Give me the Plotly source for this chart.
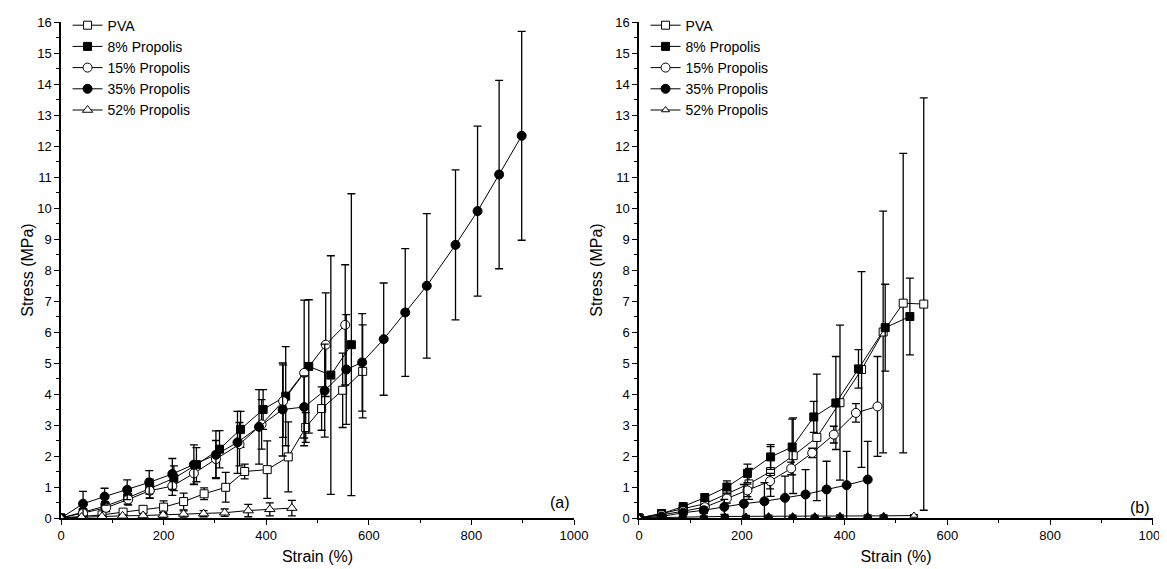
import plotly.graph_objects as go

# ---------------- Panel (a) ----------------
pva_a_x = [0, 43, 80, 121, 160, 200, 239, 279, 321, 358, 402, 443, 477, 508, 549, 588]
pva_a_y = [0, 0.06, 0.10, 0.19, 0.28, 0.35, 0.53, 0.78, 0.99, 1.50, 1.56, 1.97, 2.92, 3.53, 4.12, 4.73]
pva_a_e = [0, 0.03, 0.05, 0.07, 0.10, 0.20, 0.27, 0.19, 0.48, 0.24, 0.93, 1.13, 0.48, 0.70, 1.20, 1.50]

p8_a_x = [0, 43, 86, 130, 173, 220, 264, 309, 350, 394, 438, 483, 526, 566]
p8_a_y = [0, 0.18, 0.38, 0.65, 0.95, 1.28, 1.72, 2.22, 2.86, 3.50, 3.93, 4.89, 4.61, 5.59]
p8_a_e = [0, 0.10, 0.15, 0.20, 0.30, 0.40, 0.55, 0.60, 0.58, 0.64, 1.60, 2.15, 3.85, 4.87]

p15_a_x = [0, 43, 88, 131, 173, 217, 259, 302, 348, 391, 433, 474, 516, 554]
p15_a_y = [0, 0.15, 0.33, 0.60, 0.88, 1.03, 1.44, 1.90, 2.38, 3.02, 3.77, 4.68, 5.59, 6.23]
p15_a_e = [0, 0.08, 0.12, 0.18, 0.25, 0.30, 0.35, 0.60, 0.70, 0.80, 1.17, 2.35, 1.67, 1.94]

p35_a_x = [0, 43, 85, 129, 172, 217, 259, 302, 344, 386, 432, 474, 514, 556, 587, 629, 671, 713, 769, 812, 854, 898]
p35_a_y = [0, 0.46, 0.69, 0.91, 1.15, 1.42, 1.72, 2.04, 2.44, 2.94, 3.50, 3.58, 4.11, 4.79, 5.02, 5.77, 6.63, 7.49, 8.81, 9.90, 11.08, 12.33]
p35_a_e = [0, 0.40, 0.27, 0.32, 0.38, 0.50, 0.64, 0.77, 1.00, 1.20, 1.50, 1.00, 1.50, 1.77, 1.57, 1.81, 2.06, 2.33, 2.42, 2.74, 3.04, 3.37]

p52_a_x = [0, 40, 80, 120, 160, 199, 239, 278, 319, 365, 407, 450]
p52_a_y = [0, 0.03, 0.05, 0.07, 0.08, 0.10, 0.13, 0.14, 0.17, 0.24, 0.28, 0.32]
p52_a_e = [0, 0.02, 0.03, 0.04, 0.05, 0.08, 0.10, 0.10, 0.12, 0.20, 0.21, 0.25]

# ---------------- Panel (b) ----------------
pva_b_x = [0, 44, 86, 128, 171, 214, 256, 300, 346, 391, 433, 475, 514, 554]
pva_b_y = [0, 0.14, 0.30, 0.46, 0.78, 1.10, 1.50, 2.01, 2.60, 3.72, 4.79, 6.00, 6.93, 6.90]
pva_b_e = [0, 0.05, 0.08, 0.12, 0.20, 0.50, 0.80, 1.22, 2.04, 2.50, 3.16, 3.90, 4.83, 6.65]

p8_b_x = [0, 44, 86, 128, 171, 211, 256, 298, 340, 383, 427, 479, 527]
p8_b_y = [0, 0.14, 0.37, 0.66, 1.00, 1.44, 1.97, 2.29, 3.26, 3.71, 4.81, 6.14, 6.50]
p8_b_e = [0, 0.05, 0.08, 0.12, 0.20, 0.30, 0.40, 0.90, 0.50, 1.50, 0.62, 1.40, 1.24]

p15_b_x = [0, 44, 86, 128, 171, 211, 255, 296, 337, 379, 422, 464]
p15_b_y = [0, 0.10, 0.22, 0.35, 0.63, 0.89, 1.19, 1.60, 2.10, 2.69, 3.39, 3.60]
p15_b_e = [0, 0.04, 0.06, 0.10, 0.15, 0.20, 0.25, 0.20, 0.15, 0.27, 0.30, 1.61]

p35_b_x = [0, 44, 86, 126, 166, 204, 244, 284, 324, 365, 404, 445]
p35_b_y = [0, 0.05, 0.17, 0.25, 0.36, 0.46, 0.54, 0.65, 0.76, 0.92, 1.06, 1.24]
p35_b_e = [0, 0.03, 0.08, 0.10, 0.24, 0.62, 0.60, 0.70, 0.80, 0.91, 1.09, 1.23]

p52_b_x = [0, 44, 85, 126, 167, 208, 252, 299, 342, 391, 445, 476, 535]
p52_b_y = [0, 0.02, 0.03, 0.04, 0.05, 0.05, 0.06, 0.06, 0.06, 0.07, 0.07, 0.07, 0.08]
p52_b_e = [0, 0.02, 0.02, 0.03, 0.03, 0.03, 0.03, 0.03, 0.03, 0.03, 0.03, 0.03, 0.03]

names = ["PVA", "8% Propolis", "15% Propolis", "35% Propolis", "52% Propolis"]
FONT = "Liberation Sans, Arial, sans-serif"

styles = [
    dict(symbol="square", color="white", size=8),
    dict(symbol="square", color="black", size=8),
    dict(symbol="circle", color="white", size=9),
    dict(symbol="circle", color="black", size=9),
    dict(symbol="triangle-up", color="white", size=9),
]

fig = go.Figure()

panel_a = [(pva_a_x, pva_a_y, pva_a_e), (p8_a_x, p8_a_y, p8_a_e), (p15_a_x, p15_a_y, p15_a_e),
           (p35_a_x, p35_a_y, p35_a_e), (p52_a_x, p52_a_y, p52_a_e)]
panel_b = [(pva_b_x, pva_b_y, pva_b_e), (p8_b_x, p8_b_y, p8_b_e), (p15_b_x, p15_b_y, p15_b_e),
           (p35_b_x, p35_b_y, p35_b_e), (p52_b_x, p52_b_y, p52_b_e)]

for (x, y, e), nm, st in zip(panel_a, names, styles):
    fig.add_trace(go.Scatter(
        x=x, y=y, name=nm, mode="lines+markers", xaxis="x", yaxis="y", legend="legend",
        line=dict(color="black", width=1),
        marker=dict(symbol=st["symbol"], color=st["color"], size=st["size"],
                    line=dict(color="black", width=1)),
        error_y=dict(type="data", array=e, color="black", thickness=1.3, width=4),
    ))

for i, ((x, y, e), nm, st) in enumerate(zip(panel_b, names, styles)):
    if i == 4:
        # the near-zero triangles look filled in the reference; the last one is open
        colors = ["white"] + ["black"] * (len(x) - 2) + ["white"]
        marker = dict(symbol=st["symbol"], color=colors, size=7, line=dict(color="black", width=1))
    else:
        marker = dict(symbol=st["symbol"], color=st["color"], size=st["size"],
                      line=dict(color="black", width=1))
    fig.add_trace(go.Scatter(
        x=x, y=y, name=nm, mode="lines+markers", xaxis="x2", yaxis="y2", legend="legend2",
        line=dict(color="black", width=1),
        marker=marker,
        error_y=dict(type="data", array=e, color="black", thickness=1.3, width=4),
    ))

xticks = [0, 200, 400, 600, 800, 1000]
yticks = list(range(0, 17))

def xax(domain, anchor):
    return dict(domain=domain, anchor=anchor, range=[0, 1000], tickvals=xticks,
                showline=True, linecolor="black", linewidth=1.5, ticks="outside",
                ticklen=5, tickwidth=1.3, tickcolor="black", showgrid=False, zeroline=False,
                ticklabeloverflow="allow",
                minor=dict(dtick=100, ticks="outside", ticklen=3, tickwidth=1.2, tickcolor="black"),
                tickfont=dict(family=FONT, size=13, color="black"),
                title=dict(text="Strain (%)", font=dict(family=FONT, size=16, color="black"), standoff=8))

def yax(anchor, standoff):
    return dict(domain=[0, 1], anchor=anchor, range=[0, 16], tickvals=yticks,
                showline=True, linecolor="black", linewidth=1.5, ticks="outside",
                ticklen=5, tickwidth=1.3, tickcolor="black", showgrid=False, zeroline=False,
                minor=dict(dtick=0.5, ticks="outside", ticklen=3, tickwidth=1.2, tickcolor="black"),
                tickfont=dict(family=FONT, size=13, color="black"),
                title=dict(text="Stress (MPa)", font=dict(family=FONT, size=16, color="black"),
                           standoff=standoff))

leg = dict(font=dict(family=FONT, size=14, color="black"), bgcolor="rgba(0,0,0,0)",
           yanchor="top", y=1.025, xanchor="left", tracegroupgap=0, itemwidth=30)

# page body adds an 8px offset, so the figure is sized to fit the 1167x569 window
fig.update_layout(
    width=1159, height=561,
    margin=dict(l=53, r=14, t=14, b=51, autoexpand=False),
    paper_bgcolor="white", plot_bgcolor="white",
    xaxis=xax([0, 0.4698], "y"),
    yaxis=yax("x", 0),
    xaxis2=xax([0.5293, 1.0], "y2"),
    yaxis2=yax("x2", 9),
    legend=dict(leg, x=0.006),
    legend2=dict(leg, x=0.5353),
    annotations=[
        dict(text="(a)", x=973, y=0.5, xref="x", yref="y", showarrow=False,
             font=dict(family=FONT, size=16, color="black")),
        dict(text="(b)", x=975, y=0.34, xref="x2", yref="y2", showarrow=False,
             font=dict(family=FONT, size=16, color="black")),
    ],
    showlegend=True,
)

fig.write_html("out.html")
